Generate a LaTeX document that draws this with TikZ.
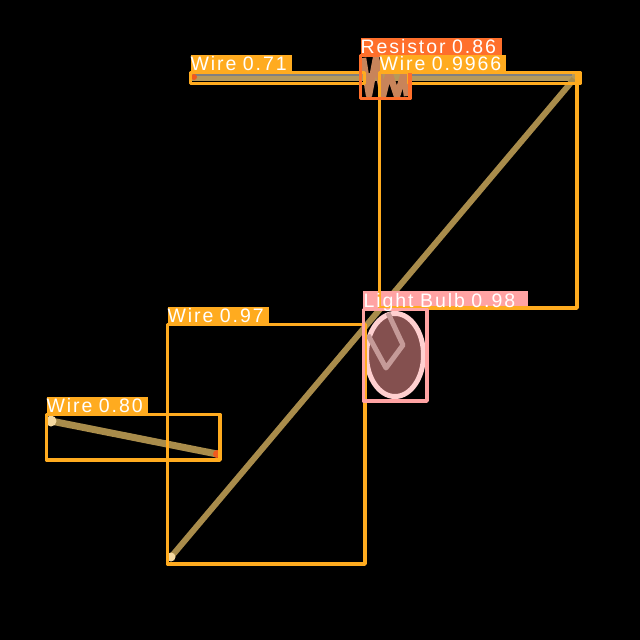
\documentclass[tikz,border=0pt]{standalone}
\usepackage{fontspec}
\setmainfont[LetterSpace=10,WordSpace=2.6]{Liberation Sans}
\usetikzlibrary{positioning,shapes.geometric}
\definecolor{wireorange}{HTML}{FFAB1F}
\definecolor{resistororange}{HTML}{FF6F2B}
\definecolor{bulbpink}{HTML}{FFA3A3}
\definecolor{bulbrim}{HTML}{FFD0D0}
\definecolor{bulbfill}{HTML}{84504F}
\definecolor{bulbwire}{HTML}{C59A98}
\definecolor{wiretan}{HTML}{A98C4B}
\definecolor{toptan}{HTML}{B59A5C}
\definecolor{coilcolor}{HTML}{C8845A}
\definecolor{wirecream}{HTML}{F5D9A0}
\definecolor{wirered}{HTML}{F0591E}
\begin{document}
\begin{tikzpicture}[x=1pt,y=-1pt,
    det box/.style={draw, line width=3.5pt, line join=round, inner sep=0pt, outer sep=0pt, anchor=north west},
    wire box/.style={det box, draw=wireorange},
    tag/.style={inner sep=0pt, outer sep=0pt, text=white, minimum height=18pt,
      font=\fontsize{19.5}{20}\selectfont, align=left, text height=14pt, text depth=1pt},
    wire tag/.style={tag, fill=wireorange},
    wire line/.style={line width=6pt, color=wiretan}]
    \fill[black] (0,0) rectangle (640,640);
    \useasboundingbox (0,0) rectangle (640,640);

    % wires underneath
    \coordinate (topa) at (191,77);
    \coordinate (topb) at (576,77);
    \coordinate (diaga) at (171,557);
    \coordinate (diagb) at (574,79);
    \coordinate (shorta) at (51,421);
    \coordinate (shortb) at (217,454);
    \draw[wire line, line width=8pt, color=toptan] (topa) -- (topb);
    \draw[color=gray, line width=2pt] (193,74.5) -- (572,74.5);
    \draw[wire line] (diaga) -- (diagb);
    \draw[wire line, line width=7pt] (shorta) -- (shortb);
    \node[circle, fill=wirecream, minimum size=11pt, inner sep=0pt] (enda) at (shorta) {};
    \node[circle, fill=wirecream, minimum size=9pt, inner sep=0pt] (endb) at (diaga) {};
    \node[circle, fill=wirered, minimum size=8pt, inner sep=0pt] (endc) at (shortb) {};
    \node[circle, fill=wirered, minimum size=6pt, inner sep=0pt] (endd) at (194,77) {};

    % resistor
    \fill[black] (361,56) rectangle (408,97);
    \draw[color=toptan, line width=8pt] (362,77) -- (408,77);
    \draw[color=coilcolor, line width=6.5pt, line join=round]
      (363,58) -- (369,95) -- (376,58) -- (383,96) -- (389,72) -- (397,96) -- (404,73) -- (407,96);

    % bulb
    \node[ellipse, draw=bulbrim, fill=bulbfill, line width=5pt,
      minimum width=57pt, minimum height=83pt, inner sep=0pt] (bulb) at (395,355) {};
    \draw[color=bulbwire, line width=5pt, line join=round]
      (368,335) -- (386,368) -- (403,345) -- (388,313);

    % boxes
    \node[tag, fill=bulbpink, minimum width=165pt, anchor=south west] (lb98bg) at (363,309) {};
    \node[wire box, minimum width=197.5pt, minimum height=239.5pt] (w97) at (167.5,324.5) {};
    \node[wire box, minimum width=173.5pt, minimum height=45.5pt] (w80) at (46.5,414.5) {};
    \node[wire box, minimum width=174pt, minimum height=11pt] (w71) at (190.5,72.5) {};
    \node[wire box, minimum width=171.5pt, minimum height=11pt] (w66) at (408.5,72.5) {};
    \node[wire box, minimum width=197.5pt, minimum height=235.5pt] (w99) at (379.5,72.5) {};
    \node[det box, draw=bulbpink, minimum width=63.5pt, minimum height=91.5pt] (b98) at (363.5,309.5) {};
    \node[det box, draw=resistororange, minimum width=49.5pt, minimum height=43pt] (r86) at (360.5,55.5) {};

    % labels
    \node[wire tag, above right=0pt and 0pt of w97.north west, text width=101pt] (lw97) {Wire 0.97};
    \node[wire tag, above right=0pt and 0pt of w80.north west, text width=101pt] (lw80) {Wire 0.80};
    \node[wire tag, above right=0pt and 0pt of w71.north west, text width=101pt] (lw71) {Wire 0.71};
    \node[tag, fill=resistororange, above right=0pt and 0pt of r86.north west, text width=141pt] (lr86) {Resistor 0.86};
    \node[wire tag, above right=0pt and 0pt of w99.north west, text width=126pt] (lw99) {Wire 0.9966};
    \node[tag, above right=0pt and 0pt of b98.north west, text width=165pt] (lb98) {Light Bulb 0.98};
  \end{tikzpicture}
\end{document}
